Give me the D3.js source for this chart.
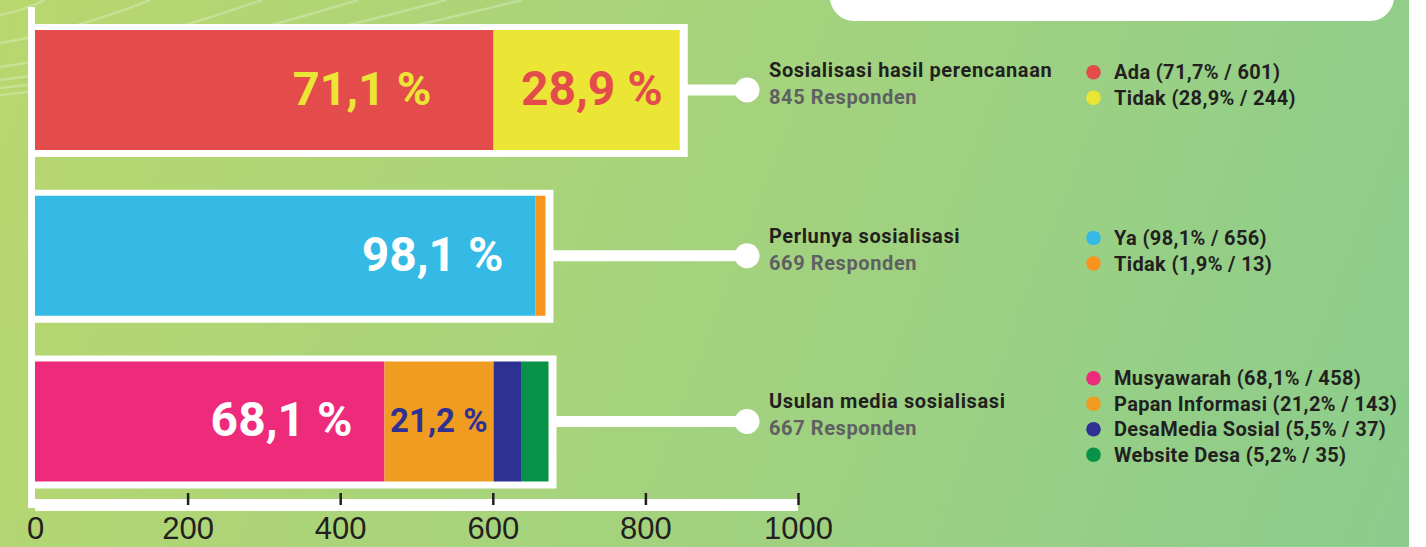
<!DOCTYPE html>
<html>
<head>
<meta charset="utf-8">
<script src="https://cdn.jsdelivr.net/npm/d3@7"></script>
<style>
  html, body { margin: 0; padding: 0; overflow: hidden; }
  svg { display: block; }
  .tick text { font-family: "Liberation Sans", Arial, sans-serif; }
</style>
</head>
<body>
<script>
const svgWidth = 1426,
    svgHeight = 547;

// questions (one bar each)
const questions = ["Sosialisasi hasil perencanaan", "Perlunya sosialisasi", "Usulan media sosialisasi"];
const respondents = [845, 669, 667];

// answers per question
const answers = [
    ["Ada", "Tidak"],
    ["Ya", "Tidak"],
    ["Musyawarah", "Papan Informasi", "DesaMedia Sosial", "Website Desa"]
];
const counts = [
    [601, 244],
    [656, 13],
    [458, 143, 37, 35]
];
const percents = [
    ["71,7%", "28,9%"],
    ["98,1%", "1,9%"],
    ["68,1%", "21,2%", "5,5%", "5,2%"]
];
// big labels written inside the bars
const barLabels = [
    ["71,1 %", "28,9 %"],
    ["98,1 %", null],
    ["68,1 %", "21,2 %", null, null]
];
const axisTicks = [0, 200, 400, 600, 800, 1000];

// styles
const segColors = [
    ["#e44c4c", "#ebe535"],
    ["#34bae5", "#f7941d"],
    ["#ee2a7b", "#f09c20", "#2e3192", "#079247"]
];
const labelColors = [
    ["#ebe535", "#e44c4c"],
    ["#ffffff", null],
    ["#ffffff", "#2e3192", null, null]
];
const labelSizes = [[47, 48], [48, null], [48, 33, null, null]];
// gap between the end of the segment and the end of its label
const labelPad = [[62, 17], [32, null], [32, 6, null, null]];

var svg = d3.select("body").append("svg")
    .attr("width", svgWidth)
    .attr("height", svgHeight);

// background gradient
var defs = svg.append("defs");
var grad = defs.append("linearGradient")
    .attr("id", "bg")
    .attr("gradientUnits", "userSpaceOnUse")
    .attr("x1", 0).attr("y1", 0)
    .attr("x2", svgWidth).attr("y2", svgHeight);
grad.append("stop").attr("offset", "0%").attr("stop-color", "#b8d76e");
grad.append("stop").attr("offset", "55%").attr("stop-color", "#a2d27f");
grad.append("stop").attr("offset", "100%").attr("stop-color", "#8acc8d");

svg.append("rect")
    .attr("width", svgWidth)
    .attr("height", svgHeight)
    .attr("fill", "url(#bg)");

// faint decorative curves top-left
var deco = svg.append("g")
    .attr("fill", "none")
    .attr("stroke", "#ffffff")
    .attr("stroke-opacity", 0.25)
    .attr("stroke-width", 2.5);
[[15, 45], [43, 150], [67, 262], [80, 358], [88, 446], [95, 522]].forEach(function (c) {
    var p = d3.path();
    p.moveTo(0, c[0]);
    p.quadraticCurveTo(c[1] * 0.45, c[0] * 0.75, c[1], 0);
    deco.append("path").attr("d", p.toString());
});

// white strip on the right and card at the top
svg.append("rect")
    .attr("x", 1409).attr("y", 0)
    .attr("width", svgWidth - 1409).attr("height", svgHeight)
    .attr("fill", "#ffffff");
svg.append("rect")
    .attr("x", 830).attr("y", -30)
    .attr("width", 564).attr("height", 51)
    .attr("rx", 24)
    .attr("fill", "#ffffff");

// scales
var x = d3.scaleLinear()
    .domain([0, 1000])
    .range([35, 798]);

var y = d3.scaleBand()
    .domain(questions)
    .range([30, 481.5])
    .paddingInner(0.276)
    .paddingOuter(0);

// left axis line
svg.append("rect")
    .attr("x", 28).attr("y", 7)
    .attr("width", 7).attr("height", 501)
    .attr("fill", "#ffffff");

// bottom axis band + ticks
svg.append("rect")
    .attr("x", x(0)).attr("y", 499)
    .attr("width", x(1000) - x(0)).attr("height", 12)
    .attr("fill", "#ffffff");

var axis = svg.append("g")
    .attr("transform", "translate(0,505)")
    .call(d3.axisBottom(x)
        .tickValues(axisTicks)
        .tickSizeInner(-12)
        .tickSizeOuter(0)
        .tickFormat(d3.format("d")));
axis.select(".domain").remove();
axis.selectAll(".tick line")
    .attr("stroke", "#231f20")
    .attr("stroke-width", 2.5)
    .attr("display", function (d) { return d === 0 ? "none" : null; });
axis.selectAll(".tick text")
    .attr("y", 34)
    .attr("dy", 0)
    .attr("fill", "#231f20")
    .attr("font-size", 31);

// bars
var bars = svg.selectAll(".bar")
    .data(questions)
    .enter().append("g")
    .attr("class", "bar");

bars.each(function (q, i) {
    var g = d3.select(this);
    var top = y(q),
        h = y.bandwidth(),
        cy = top + h / 2;
    var stack = d3.cumsum(counts[i]);
    var total = stack[stack.length - 1];

    // connector to the title
    g.append("line")
        .attr("x1", x(total) + 4).attr("x2", 747)
        .attr("y1", cy).attr("y2", cy)
        .attr("stroke", "#ffffff")
        .attr("stroke-width", 11);
    g.append("circle")
        .attr("cx", 747).attr("cy", cy)
        .attr("r", 12.5)
        .attr("fill", "#ffffff");

    // white frame
    g.append("rect")
        .attr("x", 28).attr("y", top - 6)
        .attr("width", x(total) + 8 - 28)
        .attr("height", h + 13)
        .attr("fill", "#ffffff");

    // segments
    counts[i].forEach(function (v, j) {
        var x0 = j === 0 ? 0 : stack[j - 1];
        g.append("rect")
            .attr("x", x(x0))
            .attr("y", top)
            .attr("width", x(stack[j]) - x(x0))
            .attr("height", h)
            .attr("fill", segColors[i][j]);
        if (barLabels[i][j]) {
            g.append("text")
                .attr("x", x(stack[j]) - labelPad[i][j])
                .attr("y", cy + labelSizes[i][j] * 0.31)
                .attr("text-anchor", "end")
                .attr("font-family", "Roboto, sans-serif")
                .attr("font-weight", 700)
                .attr("font-size", labelSizes[i][j])
                .attr("fill", labelColors[i][j])
                .text(barLabels[i][j]);
        }
    });

    // title
    g.append("text")
        .attr("x", 769).attr("y", cy - 13)
        .attr("font-family", "Roboto, sans-serif")
        .attr("font-weight", 700)
        .attr("font-size", 20)
        .attr("letter-spacing", 0.6)
        .attr("fill", "#231f20")
        .text(q);
    g.append("text")
        .attr("x", 769).attr("y", cy + 14)
        .attr("font-family", "Roboto, sans-serif")
        .attr("font-weight", 700)
        .attr("font-size", 20)
        .attr("letter-spacing", 0.6)
        .attr("fill", "#5f6062")
        .text(respondents[i] + " Responden");

    // legend
    var n = answers[i].length,
        step = 25.5,
        first = cy - 5 - (n - 1) * step / 2;
    answers[i].forEach(function (a, j) {
        var ly = first + j * step;
        g.append("circle")
            .attr("cx", 1093.5).attr("cy", ly)
            .attr("r", 7.3)
            .attr("fill", segColors[i][j]);
        g.append("text")
            .attr("x", 1114).attr("y", ly + 7)
            .attr("font-family", "Roboto, sans-serif")
            .attr("font-weight", 700)
            .attr("font-size", 20)
            .attr("letter-spacing", 0.35)
            .attr("fill", "#231f20")
            .text(a + " (" + percents[i][j] + " / " + counts[i][j] + ")");
    });
});
</script>
</body>
</html>
